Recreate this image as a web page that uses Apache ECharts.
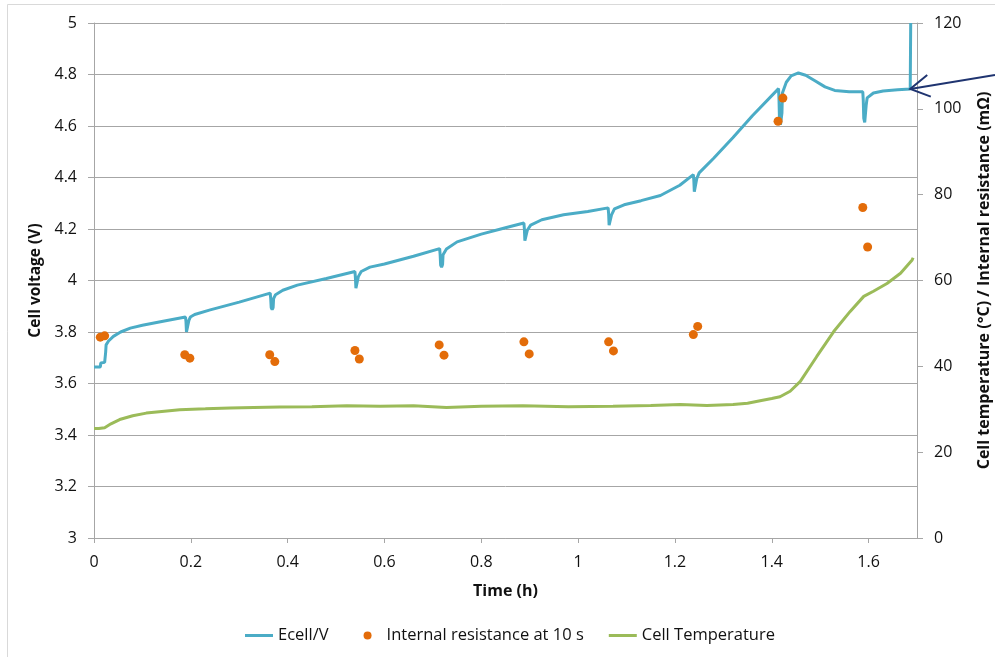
<!DOCTYPE html>
<html>
<head>
<meta charset="utf-8">
<script src="https://cdn.jsdelivr.net/npm/echarts@6/dist/echarts.min.js"></script>
<style>html,body{margin:0;padding:0;background:#fff}#c{width:995px;height:657px}</style>
</head>
<body>
<div id="c"></div>
<script>
// ---- Data (time in h) ----
const ecellTime = [0.000,0.013,0.014,0.022,0.024,0.025,0.030,0.040,0.055,0.075,0.100,0.140,0.189,
 0.190,0.191,0.193,0.195,0.196,0.199,0.208,0.240,0.300,0.364,
 0.365,0.366,0.368,0.370,0.371,0.375,0.390,0.420,0.480,0.539,
 0.540,0.541,0.543,0.545,0.546,0.552,0.570,0.600,0.660,0.714,
 0.715,0.716,0.718,0.720,0.721,0.728,0.750,0.800,0.850,0.888,
 0.889,0.890,0.892,0.894,0.895,0.902,0.925,0.970,1.020,1.062,
 1.063,1.064,1.066,1.068,1.069,1.075,1.095,1.130,1.170,1.210,1.238,
 1.239,1.240,1.242,1.244,1.245,1.250,1.280,1.320,1.360,1.414,
 1.415,1.416,1.418,1.420,1.421,1.422,1.430,1.440,1.455,1.470,1.490,1.510,1.530,1.560,1.588,
 1.589,1.590,1.592,1.594,1.595,1.597,1.610,1.630,1.660,1.686,1.687];
const ecellVolt = [3.664,3.664,3.680,3.682,3.720,3.750,3.765,3.783,3.800,3.815,3.826,3.841,3.858,
 3.840,3.800,3.796,3.800,3.845,3.858,3.868,3.886,3.916,3.951,
 3.930,3.895,3.887,3.895,3.930,3.945,3.962,3.982,4.008,4.035,
 4.010,3.970,3.964,3.975,4.015,4.035,4.052,4.064,4.094,4.124,
 4.100,4.060,4.052,4.062,4.100,4.122,4.150,4.180,4.205,4.223,
 4.200,4.155,4.148,4.158,4.195,4.215,4.236,4.255,4.268,4.282,
 4.260,4.215,4.208,4.218,4.255,4.278,4.294,4.310,4.330,4.370,4.411,
 4.390,4.345,4.340,4.350,4.395,4.418,4.475,4.555,4.640,4.745,
 4.700,4.620,4.605,4.605,4.650,4.728,4.770,4.795,4.806,4.797,4.775,4.752,4.738,4.733,4.733,
 4.700,4.630,4.614,4.615,4.680,4.709,4.728,4.736,4.741,4.744,5.000];

const resTime = [0.013,0.022,0.1875,0.198,0.363,0.3735,0.539,0.548,0.713,0.723,0.888,0.899,1.063,1.073,1.238,1.247,1.413,1.423,1.588,1.598];
const resValue = [46.8,47.1,42.7,41.9,42.7,41.1,43.7,41.7,45.0,42.6,45.7,42.9,45.7,43.6,47.4,49.3,97.1,102.5,77.0,67.8];

const tempTime = [0.000,0.010,0.022,0.035,0.053,0.080,0.108,0.140,0.177,0.230,0.281,0.330,0.384,0.450,0.522,0.591,0.660,0.728,0.800,0.886,0.980,1.072,1.150,1.211,1.266,1.320,1.350,1.376,1.400,1.417,1.438,1.459,1.493,1.528,1.562,1.590,1.610,1.638,1.666,1.690,1.692];
const tempValue = [25.5,25.5,25.7,26.6,27.6,28.5,29.1,29.5,29.9,30.1,30.3,30.4,30.5,30.6,30.8,30.7,30.8,30.4,30.7,30.8,30.6,30.7,30.9,31.1,30.9,31.1,31.4,32.0,32.5,32.9,34.2,36.5,42.3,48.1,52.8,56.3,57.5,59.3,61.7,64.8,65.3];

const xTicks = {min: 0, max: 1.7, interval: 0.2};
const leftTicks = {min: 3, max: 5, interval: 0.2};
const rightTicks = {min: 0, max: 120, interval: 20};

const seriesNames = ['Ecell/V', 'Internal resistance at 10 s', 'Cell Temperature'];

// ---- Chart ----
const FONT = '"Open Sans", sans-serif';
const pair = (xs, ys) => xs.map((x, i) => [x, ys[i]]);
const chart = echarts.init(document.getElementById('c'), null, {renderer: 'canvas'});
const axisGray = '#a6a6a6';
const txt = '#111';
const lineIcon = 'path://M0,0M0,2.5L28,2.5L28,5.5L0,5.5ZM28,8';
const dotIcon = 'path://M0,0M28,8M10,4A4,4,0,1,1,18,4A4,4,0,1,1,10,4Z';

const option = {
  animation: false,
  backgroundColor: '#fff',
  textStyle: {fontFamily: FONT},
  grid: {left: 94, right: 78, top: 23, bottom: 119, containLabel: false, outerBoundsMode: 'none'},
  legend: {
    left: 240, top: 622,
    itemWidth: 28, itemHeight: 8, itemGap: 25,
    textStyle: {fontFamily: FONT, fontSize: 16.5, color: txt},
    data: [
      {name: seriesNames[0], icon: lineIcon},
      {name: seriesNames[1], icon: dotIcon},
      {name: seriesNames[2], icon: lineIcon}
    ]
  },
  xAxis: {
    type: 'value', min: xTicks.min, max: xTicks.max, interval: xTicks.interval,
    name: 'Time (h)', nameLocation: 'middle', nameGap: 45,
    nameTextStyle: {fontFamily: FONT, fontWeight: 'bold', fontSize: 16, color: txt},
    axisLine: {show: true, onZero: false, lineStyle: {color: axisGray}},
    axisTick: {show: true, length: 5, lineStyle: {color: axisGray}},
    axisLabel: {fontFamily: FONT, fontSize: 16, color: txt, margin: 16, showMaxLabel: false},
    splitLine: {show: false}
  },
  yAxis: [
    {
      type: 'value', min: leftTicks.min, max: leftTicks.max, interval: leftTicks.interval,
      name: 'Cell voltage (V)', nameLocation: 'middle', nameGap: 47,
      nameTextStyle: {fontFamily: FONT, fontWeight: 'bold', fontSize: 15.5, color: txt},
      axisLine: {show: true, lineStyle: {color: axisGray}},
      axisTick: {show: true, length: 6, lineStyle: {color: axisGray}},
      axisLabel: {fontFamily: FONT, fontSize: 16, color: txt, margin: 17},
      splitLine: {show: true, lineStyle: {color: axisGray, width: 1}}
    },
    {
      type: 'value', position: 'right', min: rightTicks.min, max: rightTicks.max, interval: rightTicks.interval,
      name: 'Cell temperature (°C) / Internal resistance (mΩ)', nameLocation: 'middle', nameGap: 59,
      nameRotate: 90,
      nameTextStyle: {fontFamily: FONT, fontWeight: 'bold', fontSize: 16, color: txt},
      axisLine: {show: true, lineStyle: {color: axisGray}},
      axisTick: {show: true, length: 6, lineStyle: {color: axisGray}},
      axisLabel: {fontFamily: FONT, fontSize: 16, color: txt, margin: 17},
      splitLine: {show: false}
    }
  ],
  series: [
    {
      name: seriesNames[2], type: 'line', yAxisIndex: 1, symbol: 'none',
      data: pair(tempTime, tempValue),
      lineStyle: {color: '#9bbb59', width: 3},
      itemStyle: {color: '#9bbb59'}, z: 2
    },
    {
      name: seriesNames[0], type: 'line', yAxisIndex: 0, symbol: 'none',
      data: pair(ecellTime, ecellVolt),
      lineStyle: {color: '#4bacc6', width: 3},
      itemStyle: {color: '#4bacc6'}, z: 3
    },
    {
      name: seriesNames[1], type: 'scatter', yAxisIndex: 1, symbol: 'circle', symbolSize: 9,
      data: pair(resTime, resValue),
      itemStyle: {color: '#e36c09', opacity: 1}, z: 4
    }
  ]
};
chart.setOption(option);

// Annotation arrow pointing at the end of the Ecell trace, plus outer chart border
const n = ecellTime.length - 2;
const tip = chart.convertToPixel({xAxisIndex: 0, yAxisIndex: 0}, [ecellTime[n], ecellVolt[n]]);
const tail = [995, tip[1] - 14];
const ang = Math.atan2(tail[1] - tip[1], tail[0] - tip[0]);
const L = 22, spread = Math.PI / 6;
const h1 = [tip[0] + L * Math.cos(ang - spread), tip[1] + L * Math.sin(ang - spread)];
const h2 = [tip[0] + L * Math.cos(ang + spread), tip[1] + L * Math.sin(ang + spread)];
chart.setOption({
  graphic: [
    {type: 'rect', shape: {x: 7.5, y: 4.5, width: 1000, height: 700}, style: {fill: 'none', stroke: '#d9d9d9', lineWidth: 1}, z: -1, silent: true},
    {type: 'polyline', shape: {points: [tail, tip]}, style: {stroke: '#1f3470', lineWidth: 2, fill: 'none'}, z: 10},
    {type: 'polyline', shape: {points: [h1, tip, h2]}, style: {stroke: '#1f3470', lineWidth: 2, fill: 'none'}, z: 10}
  ]
});
</script>
</body>
</html>
